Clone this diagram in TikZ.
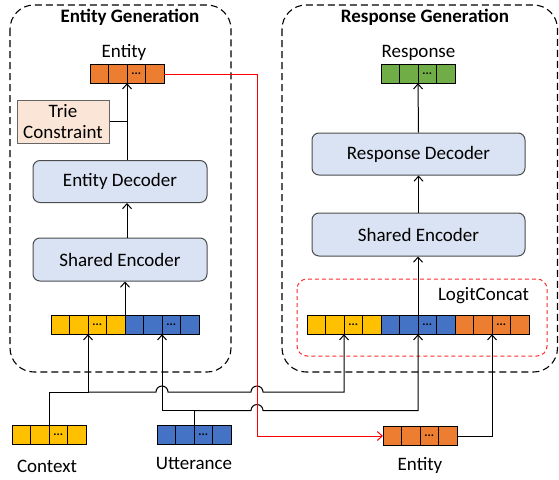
\documentclass[tikz,border=0pt]{standalone}
\usepackage{fontspec}
\setmainfont{Carlito}
\usetikzlibrary{positioning,arrows.meta,calc}

\definecolor{tokorange}{HTML}{ED7D31}
\definecolor{tokyellow}{HTML}{FFC000}
\definecolor{tokblue}{HTML}{4472C4}
\definecolor{tokgreen}{HTML}{70AD47}
\definecolor{modfill}{HTML}{DAE3F3}
\definecolor{triefill}{HTML}{FBE5D6}
\definecolor{concatred}{HTML}{FF2A2A}

\tikzset{
  tok/.style={draw=black, line width=0.8pt, minimum width=18.5pt, minimum height=18.5pt, inner sep=0pt, outer sep=0pt},
  tokdots/.style={inner sep=0pt, font=\fontsize{12}{12}\selectfont\bfseries},
  module/.style={draw=black!70, fill=modfill, rounded corners=7pt, line width=1pt, inner sep=0pt, font=\fontsize{19}{22}\selectfont},
  label/.style={inner sep=0pt, anchor=base, font=\fontsize{19}{22}\selectfont},
  title/.style={inner sep=0pt, anchor=base, font=\fontsize{19}{22}\selectfont\bfseries},
  stage/.style={draw=black, dash pattern=on 7pt off 4pt, line width=1.1pt, rounded corners=24pt},
  arr/.style={line width=1pt, -{Straight Barb[length=5pt,width=9pt]}},
  link/.style={line width=1pt},
}

% group of four token cells, dots in the third one
\newcommand{\tokgroup}[3]{%
  \node[tok, fill=#3] (#1-1) at (#2) {};
  \foreach \i [count=\j from 1] in {2,3,4}
    \node[tok, fill=#3, right=0pt of #1-\j] (#1-\i) {};
  \node[tokdots] at (#1-3) {...};
}

\begin{document}
\begin{tikzpicture}[x=1pt, y=-1pt]
\useasboundingbox (0,0) rectangle (559,479);

% stages
\draw[stage] (10,5) rectangle (231,372);
\draw[stage] (282,5) rectangle (557.5,372);
\node[title] (egen) at (130,23) {Entity Generation};
\node[title] (rgen) at (425,23) {Response Generation};

% entity generation
\node[label] (entlabel) at (124,57.5) {Entity};
\tokgroup{ent}{99.25,74}{tokorange}
\node[draw=black!60, fill=triefill, line width=1pt, minimum width=92pt, minimum height=43pt, inner sep=0pt, align=center, font=\fontsize{19}{21}\selectfont] (trie) at (63,121.5) {Trie\\Constraint};
\node[module, minimum width=174pt, minimum height=42pt] (edec) at (120,181.5) {Entity Decoder};
\node[module, minimum width=174pt, minimum height=43pt] (lenc) at (120,259.5) {Shared Encoder};
\tokgroup{lctx}{60.25,325}{tokyellow}
\tokgroup{lutt}{134.25,325}{tokblue}

% response generation
\node[label] (resplabel) at (418.5,57) {Response};
\tokgroup{resp}{390.25,74}{tokgreen}
\node[module, minimum width=213pt, minimum height=42pt] (rdec) at (418.5,154) {Response Decoder};
\node[module, minimum width=213pt, minimum height=43pt] (renc) at (418.5,234.5) {Shared Encoder};
\draw[draw=concatred, dash pattern=on 4pt off 3pt, line width=1pt, rounded corners=10pt] (297,279) rectangle (547,356);
\node[label] (logit) at (483.5,300) {LogitConcat};
\tokgroup{rctx}{316.25,325}{tokyellow}
\tokgroup{rutt}{390.25,325}{tokblue}
\tokgroup{rent}{464.25,325}{tokorange}

% inputs
\tokgroup{ctx}{21.25,435}{tokyellow}
\tokgroup{utt}{166.25,435}{tokblue}
\tokgroup{went}{392.25,436}{tokorange}
\node[label] (ctxlabel) at (47,472) {Context};
\node[label] (uttlabel) at (194,469) {Utterance};
\node[label] (wentlabel) at (420,470) {Entity};

% buses
\coordinate (ctxbus) at (0,392);
\coordinate (uttbus) at (0,410.5);
\coordinate (redx) at (257,0);

% arrows inside the stages
\draw[arr] (edec.north -| ent-2.south east) -- (ent-2.south east);
\draw[link] (trie.east) -- (trie.east -| ent-2.south east);
\draw[arr] (lenc.north -| ent-2.south east) -- (edec.south -| ent-2.south east);
\draw[arr] (lctx-4.north east) -- (lenc.south -| lctx-4.north east);
\draw[arr] (rutt-2.north east) -- (renc.south -| rutt-2.north east);
\draw[arr] (renc.north) -- (rdec.south);
\draw[arr] (rdec.north) -- (resp-2.south east);

% context
\draw[arr] (ctx-2.north east) |- (lctx-2.south east |- ctxbus) -- (lctx-2.south east);
\draw[arr] (lctx-2.south east |- ctxbus)
  -- ($(lutt-2.south east |- ctxbus)+(-6,0)$) arc[start angle=180, end angle=360, radius=6]
  -- ($(redx |- ctxbus)+(-6,0)$) arc[start angle=180, end angle=360, radius=6]
  -- (rctx-2.south east |- ctxbus) -- (rctx-2.south east);

% utterance
\draw[arr] (utt-2.north east) |- (lutt-2.south east |- uttbus) -- (lutt-2.south east);
\draw[arr] (utt-2.north east |- uttbus)
  -- ($(redx |- uttbus)+(-6,0)$) arc[start angle=180, end angle=360, radius=6]
  -- (rutt-2.south east |- uttbus) -- (rutt-2.south east);

% predicted entity
\draw[arr, red] (ent-4.east) -- (ent-4.east -| redx) |- (went-1.west);
\draw[arr] (went-4.east) -| (rent-2.south east);
\end{tikzpicture}
\end{document}
